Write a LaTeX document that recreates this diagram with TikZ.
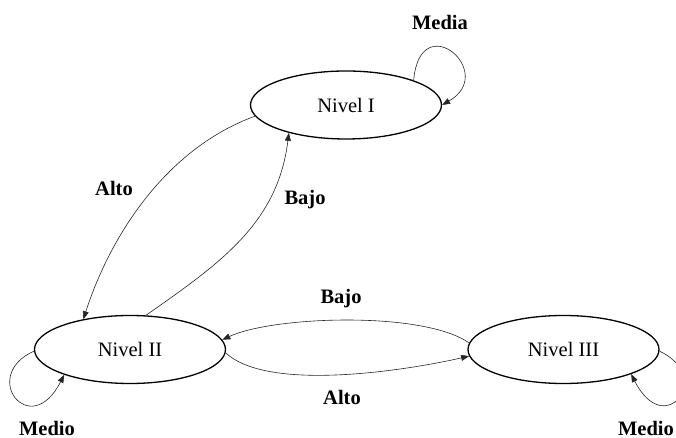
\documentclass[tikz,border=0pt]{standalone}
\usepackage{fontspec}
\setmainfont{Liberation Serif}
\usetikzlibrary{shapes.geometric,arrows.meta}

\tikzset{
  state/.style={draw, ellipse, line width=1.3pt, inner sep=0pt,
    minimum width=191pt, minimum height=68pt,
    font=\fontsize{20.5}{24}\selectfont},
  trans/.style={line width=0.6pt, draw=black!85,
    -{Triangle[length=8pt,width=6pt]}},
  lbl/.style={font=\fontsize{20.5}{24}\selectfont\bfseries, inner sep=0pt}
}

\begin{document}
\begin{tikzpicture}[x=1pt, y=1pt]
  \useasboundingbox (0,0) rectangle (676,438);

  % states
  \node[state] (n1) at (346,333) {Nivel I};
  \node[state] (n2) at (130,88.5) {Nivel II};
  \node[state] (n3) at (563.5,88.5) {Nivel III};

  % transitions between Nivel I and Nivel II
  \draw[trans] (n1.187.5) .. controls +(200:92) and +(72:92) .. (n2.147.9);
  \draw[trans] (n2.65.9) .. controls +(35:91) and +(263:91) .. (n1.206.6);

  % transitions between Nivel II and Nivel III
  \draw[trans] (n3.176) .. controls +(145:56) and +(25:56) .. (n2.6.4);
  \draw[trans] (n2.-2) .. controls +(-43:59) and +(193:59) .. (n3.184.7);

  % self loops
  \draw[trans] (n1.20) .. controls +(85:75) and +(30:65) .. (n1.east);
  \draw[trans] (n2.181.5) .. controls +(204:60) and +(243:75) .. (n2.201.3);
  \draw[trans] (n3.-1) .. controls +(-25:60) and +(-63:75) .. (n3.-20.4);

  % labels
  \node[lbl] (lmedia) at (440,416) {Media};
  \node[lbl] (lalto1) at (114,250) {Alto};
  \node[lbl] (lbajo1) at (305,238) {Bajo};
  \node[lbl] (lbajo2) at (341,139) {Bajo};
  \node[lbl] (lalto2) at (342,41) {Alto};
  \node[lbl] (lmedio2) at (47,10) {Medio};
  \node[lbl] (lmedio3) at (646,10) {Medio};
\end{tikzpicture}
\end{document}
